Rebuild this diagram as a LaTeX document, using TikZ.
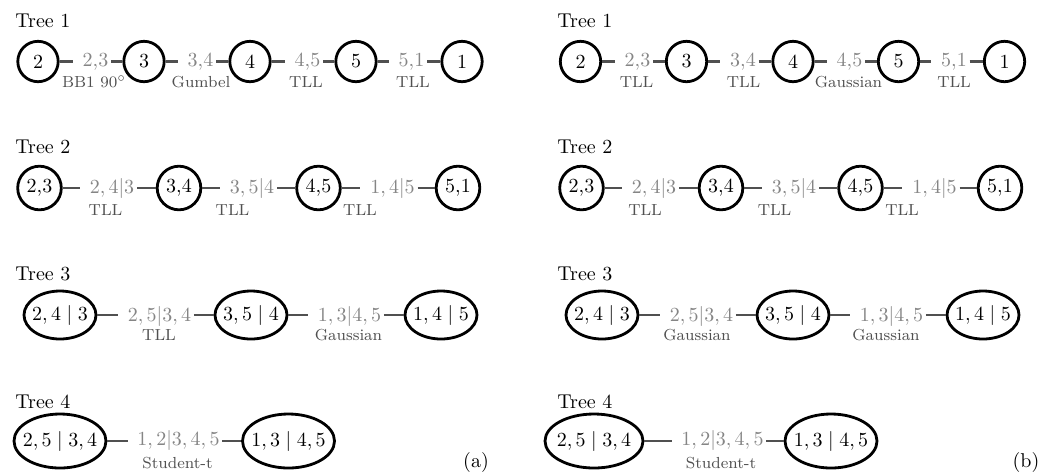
\documentclass[tikz,border=0pt]{standalone}
\usetikzlibrary{shapes.geometric}
\definecolor{labc}{HTML}{858585}
\definecolor{famc}{HTML}{505050}
\definecolor{edgec}{HTML}{505050}
\begin{document}
\begin{tikzpicture}[x=0.5pt,y=-0.5pt,
 treelab/.style={anchor=base west,inner sep=0},
 vA/.style={circle,draw=black,line width=1.4pt,minimum size=20.2pt,inner sep=0},
 vB/.style={circle,draw=black,line width=1.4pt,minimum size=21.8pt,inner sep=0},
 vC/.style={ellipse,draw=black,line width=1.4pt,minimum width=36pt,minimum height=24pt,inner sep=0},
 vD/.style={ellipse,draw=black,line width=1.4pt,minimum width=46pt,minimum height=27pt,inner sep=0},
 elab/.style={anchor=base,text=labc,inner xsep=1.2pt,inner ysep=0pt},
 fam/.style={anchor=base,text=famc,font=\footnotesize,inner sep=0},
 con/.style={draw=edgec,line width=1.3pt},
 conl/.style={con,shorten >=3.5pt},
 panlab/.style={anchor=base,inner sep=0},
]
\useasboundingbox (0,0) rectangle (1053,473);

% ================= Panel (a) =================
% Tree 1
\node[treelab] (a1t) at (15,27) {Tree 1};
\node[vA] (a1n2) at (38,61.5) {2};
\node[vA] (a1n3) at (144,61.5) {3};
\node[vA] (a1n4) at (250,61.5) {4};
\node[vA] (a1n5) at (356,61.5) {5};
\node[vA] (a1n1) at (462,61.5) {1};
\node[elab] (a1e1) at (95.5,66.5) {2,3};
\node[elab] (a1e2) at (200.5,66.5) {3,4};
\node[elab] (a1e3) at (307.5,66.5) {4,5};
\node[elab] (a1e4) at (411.5,66.5) {5,1};
\node[fam] (a1f1) at (94,87.5) {BB1 90$^\circ$};
\node[fam] (a1f2) at (201,87.5) {Gumbel};
\node[fam] (a1f3) at (306,87.5) {TLL};
\node[fam] (a1f4) at (413,87.5) {TLL};
\draw[conl] (a1n2) -- (a1e1.west |- a1n2); \draw[con] (a1e1.east |- a1n3) -- (a1n3);
\draw[conl] (a1n3) -- (a1e2.west |- a1n3); \draw[con] (a1e2.east |- a1n4) -- (a1n4);
\draw[conl] (a1n4) -- (a1e3.west |- a1n4); \draw[con] (a1e3.east |- a1n5) -- (a1n5);
\draw[conl] (a1n5) -- (a1e4.west |- a1n5); \draw[con] (a1e4.east |- a1n1) -- (a1n1);

% Tree 2
\node[treelab] (a2t) at (15,153) {Tree 2};
\node[vB] (a2n1) at (39.5,188) {2,3};
\node[vB] (a2n2) at (179,188) {3,4};
\node[vB] (a2n3) at (318.5,188) {4,5};
\node[vB] (a2n4) at (458,188) {5,1};
\node[elab] (a2e1) at (112,193.5) {$2,4|3$};
\node[elab] (a2e2) at (252,193.5) {$3,5|4$};
\node[elab] (a2e3) at (392.5,193.5) {$1,4|5$};
\node[fam] (a2f1) at (105.5,215) {TLL};
\node[fam] (a2f2) at (232.5,215) {TLL};
\node[fam] (a2f3) at (360,215) {TLL};
\draw[conl] (a2n1) -- (a2e1.west |- a2n1); \draw[con] (a2e1.east |- a2n2) -- (a2n2);
\draw[conl] (a2n2) -- (a2e2.west |- a2n2); \draw[con] (a2e2.east |- a2n3) -- (a2n3);
\draw[conl] (a2n3) -- (a2e3.west |- a2n3); \draw[con] (a2e3.east |- a2n4) -- (a2n4);

% Tree 3
\node[treelab] (a3t) at (15,280) {Tree 3};
\node[vC] (a3n1) at (60,315) {\makebox[0pt]{$2,4\mid 3$}};
\node[vC] (a3n2) at (251,315) {\makebox[0pt]{$3,5\mid 4$}};
\node[vC] (a3n3) at (441,315) {\makebox[0pt]{$1,4\mid 5$}};
\node[elab] (a3e1) at (159.5,321.5) {$2,5|3,4$};
\node[elab] (a3e2) at (349.5,321.5) {$1,3|4,5$};
\node[fam] (a3f1) at (159,340) {TLL};
\node[fam] (a3f2) at (348.5,340) {Gaussian};
\draw[conl] (a3n1) -- (a3e1.west |- a3n1); \draw[con] (a3e1.east |- a3n2) -- (a3n2);
\draw[conl] (a3n2) -- (a3e2.west |- a3n2); \draw[con] (a3e2.east |- a3n3) -- (a3n3);

% Tree 4
\node[treelab] (a4t) at (15,408) {Tree 4};
\node[vD] (a4n1) at (60,441) {\makebox[0pt]{$2,5\mid 3,4$}};
\node[vD] (a4n2) at (288.5,441) {\makebox[0pt]{$1,3\mid 4,5$}};
\node[elab] (a4e1) at (178.5,445) {$1,2|3,4,5$};
\node[fam] (a4f1) at (177.5,468) {Student-t};
\draw[conl] (a4n1) -- (a4e1.west |- a4n1); \draw[con] (a4e1.east |- a4n2) -- (a4n2);
\node[panlab] (apan) at (476,467) {(a)};

% ================= Panel (b) =================
% Tree 1
\node[treelab] (b1t) at (557,27) {Tree 1};
\node[vA] (b1n2) at (580.5,61.5) {2};
\node[vA] (b1n3) at (686.5,61.5) {3};
\node[vA] (b1n4) at (793,61.5) {4};
\node[vA] (b1n5) at (898.5,61.5) {5};
\node[vA] (b1n1) at (1004.5,61.5) {1};
\node[elab] (b1e1) at (637.5,66.5) {2,3};
\node[elab] (b1e2) at (743,66.5) {3,4};
\node[elab] (b1e3) at (849.5,66.5) {4,5};
\node[elab] (b1e4) at (954,66.5) {5,1};
\node[fam] (b1f1) at (636.5,87.5) {TLL};
\node[fam] (b1f2) at (743.5,87.5) {TLL};
\node[fam] (b1f3) at (848.5,87.5) {Gaussian};
\node[fam] (b1f4) at (954,87.5) {TLL};
\draw[conl] (b1n2) -- (b1e1.west |- b1n2); \draw[con] (b1e1.east |- b1n3) -- (b1n3);
\draw[conl] (b1n3) -- (b1e2.west |- b1n3); \draw[con] (b1e2.east |- b1n4) -- (b1n4);
\draw[conl] (b1n4) -- (b1e3.west |- b1n4); \draw[con] (b1e3.east |- b1n5) -- (b1n5);
\draw[conl] (b1n5) -- (b1e4.west |- b1n5); \draw[con] (b1e4.east |- b1n1) -- (b1n1);

% Tree 2
\node[treelab] (b2t) at (557,153) {Tree 2};
\node[vB] (b2n1) at (581.5,188) {2,3};
\node[vB] (b2n2) at (721,188) {3,4};
\node[vB] (b2n3) at (860.5,188) {4,5};
\node[vB] (b2n4) at (1000,188) {5,1};
\node[elab] (b2e1) at (654,193.5) {$2,4|3$};
\node[elab] (b2e2) at (794,193.5) {$3,5|4$};
\node[elab] (b2e3) at (934.5,193.5) {$1,4|5$};
\node[fam] (b2f1) at (645,215) {TLL};
\node[fam] (b2f2) at (774.5,215) {TLL};
\node[fam] (b2f3) at (902,215) {TLL};
\draw[conl] (b2n1) -- (b2e1.west |- b2n1); \draw[con] (b2e1.east |- b2n2) -- (b2n2);
\draw[conl] (b2n2) -- (b2e2.west |- b2n2); \draw[con] (b2e2.east |- b2n3) -- (b2n3);
\draw[conl] (b2n3) -- (b2e3.west |- b2n3); \draw[con] (b2e3.east |- b2n4) -- (b2n4);

% Tree 3
\node[treelab] (b3t) at (557,280) {Tree 3};
\node[vC] (b3n1) at (602,315) {\makebox[0pt]{$2,4\mid 3$}};
\node[vC] (b3n2) at (793,315) {\makebox[0pt]{$3,5\mid 4$}};
\node[vC] (b3n3) at (983,315) {\makebox[0pt]{$1,4\mid 5$}};
\node[elab] (b3e1) at (701.5,321.5) {$2,5|3,4$};
\node[elab] (b3e2) at (891.5,321.5) {$1,3|4,5$};
\node[fam] (b3f1) at (697,340) {Gaussian};
\node[fam] (b3f2) at (886,340) {Gaussian};
\draw[conl] (b3n1) -- (b3e1.west |- b3n1); \draw[con] (b3e1.east |- b3n2) -- (b3n2);
\draw[conl] (b3n2) -- (b3e2.west |- b3n2); \draw[con] (b3e2.east |- b3n3) -- (b3n3);

% Tree 4
\node[treelab] (b4t) at (557,408) {Tree 4};
\node[vD,minimum width=49pt] (b4n1) at (594,441) {\makebox[0pt]{$2,5\mid 3,4$}};
\node[vD] (b4n2) at (831,441) {\makebox[0pt]{$1,3\mid 4,5$}};
\node[elab] (b4e1) at (722.5,445) {$1,2|3,4,5$};
\node[fam] (b4f1) at (721,468) {Student-t};
\draw[conl] (b4n1) -- (b4e1.west |- b4n1); \draw[con] (b4e1.east |- b4n2) -- (b4n2);
\node[panlab] (bpan) at (1026,467) {(b)};
\end{tikzpicture}
\end{document}
